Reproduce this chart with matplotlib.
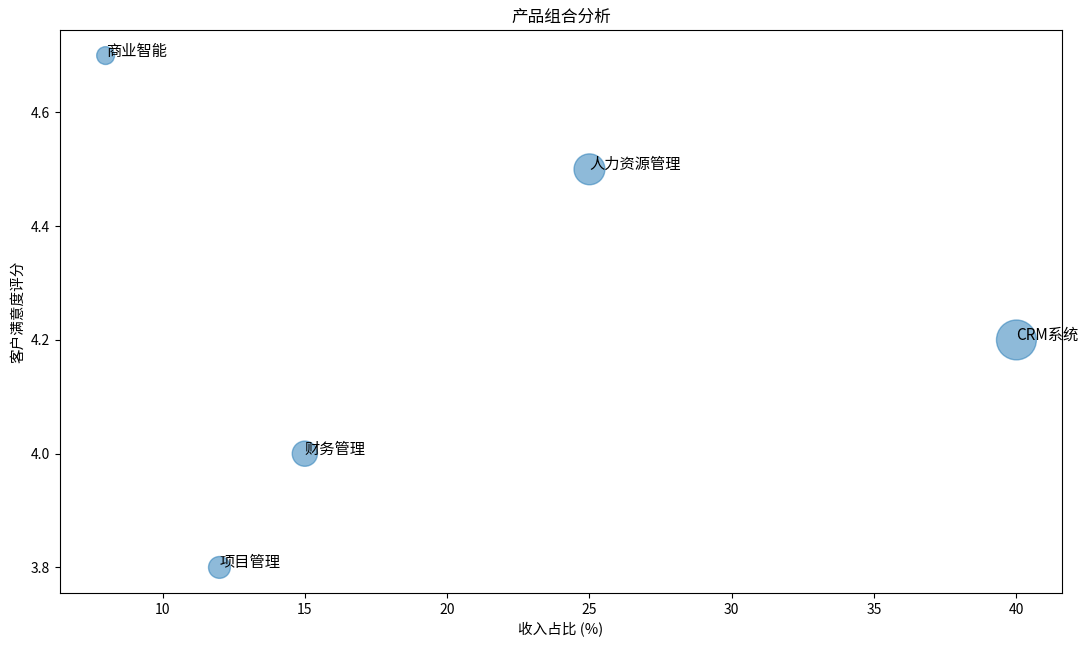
import matplotlib
matplotlib.use("Agg")
import matplotlib.pyplot as plt

plt.rcParams["font.family"] = ["Noto Sans CJK SC", "DejaVu Sans"]
plt.rcParams["axes.unicode_minus"] = False

# Data
products = ["CRM系统", "人力资源管理", "财务管理", "项目管理", "商业智能"]
revenue_share = [40, 25, 15, 12, 8]
satisfaction = [4.2, 4.5, 4.0, 3.8, 4.7]
market_size = [500, 300, 200, 150, 100]

fig = plt.figure(figsize=(10.8, 6.46), dpi=100)
ax = fig.add_axes([0.0556, 0.082, 0.9277, 0.8716])

ax.scatter(revenue_share, satisfaction, s=[m * 1.65 for m in market_size],
           alpha=0.5, color="C0")
for name, x, y in zip(products, revenue_share, satisfaction):
    ax.annotate(name, (x, y), fontsize=11)

ax.set_title("产品组合分析", fontsize=12)
ax.set_xlabel("收入占比 (%)", fontsize=10.5)
ax.set_ylabel("客户满意度评分", fontsize=10.5)
ax.tick_params(labelsize=10)

fig.savefig("out.png", dpi=100)
